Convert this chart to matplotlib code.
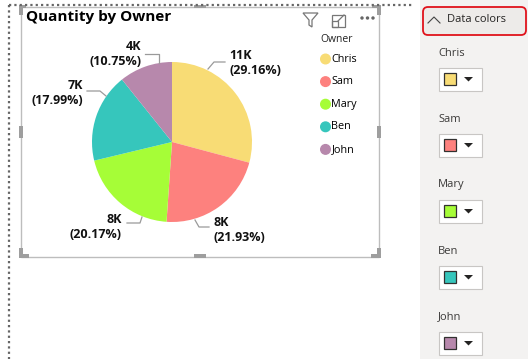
import matplotlib.pyplot as plt
from matplotlib.patches import Rectangle, FancyBboxPatch, Circle, Polygon

plt.rcParams['font.family'] = ['Open Sans', 'DejaVu Sans']

# data
owners = ['Chris', 'Sam', 'Mary', 'Ben', 'John']
shares = [29.16, 21.93, 20.17, 17.99, 10.75]
qty_labels = ['11K', '8K', '8K', '7K', '4K']
colors = ['#F8DC75', '#FD817E', '#A6FD37', '#36C6BC', '#B788AC']

fig = plt.figure(figsize=(5.28, 3.59), dpi=100)
ax = fig.add_axes([0, 0, 1, 1])

# pie in pixel coords (y axis flipped, so counterclock=True looks clockwise)
ax.pie(shares, colors=colors, startangle=270, counterclock=True,
       center=(172, 142), radius=80, wedgeprops=dict(linewidth=0))

ax.set_xlim(0, 528)
ax.set_ylim(359, 0)
ax.set_aspect('equal')
ax.axis('off')

# data labels: (x, y, ha) and leader line points
label_pos = [(229, 63, 'left'), (213, 230, 'left'), (122, 227, 'right'),
             (83, 93, 'right'), (141, 54, 'right')]
leaders = [[(208, 69), (214, 62), (225, 62)],
           [(195, 220), (199, 227), (209, 227)],
           [(142, 217), (140, 223), (127, 223)],
           [(106, 96), (100, 91), (87, 91)],
           [(159, 63), (159, 54), (145, 54)]]
for q, s, (x, y, ha), pts in zip(qty_labels, shares, label_pos, leaders):
    ax.text(x, y, f'{q}\n({s:.2f}%)', ha=ha, va='center', fontsize=9,
            fontweight='bold', color='#111111', linespacing=1.25)
    xs, ys = zip(*pts)
    ax.plot(xs, ys, color='#9A9A9A', lw=0.9)

# title
ax.text(26, 17, 'Quantity by Owner', fontsize=11, fontweight='bold',
        ha='left', va='center', color='black')

# legend
ax.text(320, 40, 'Owner', fontsize=7.5, ha='left', va='center', color='#222222')
for i, (name, c) in enumerate(zip(owners, colors)):
    y = 59 + i * 22.6
    ax.add_patch(Circle((325.5, y), 4.8, color=c))
    ax.text(331.5, y, name, fontsize=7.8, ha='left', va='center', color='#000000')

# visual frame
ax.add_patch(Rectangle((20.5, 6.5), 358.5, 250, fill=False, ec='#BDBDBD', lw=1))
hc = '#9E9E9E'
for (x, y, w, h) in [(19, 5, 4, 10), (19, 5, 7, 3), (377, 5, 4, 10), (372, 5, 9, 3),
                     (19, 248, 4, 10), (19, 254, 10, 4), (377, 248, 4, 10), (371, 254, 10, 4),
                     (194, 5, 12, 3), (194, 254, 12, 4), (377, 126, 4, 12), (19, 126, 4, 12)]:
    ax.add_patch(Rectangle((x, y), w, h, color=hc, lw=0))

# header icons
ax.add_patch(Polygon([(303, 13), (318, 13), (312, 20), (312, 27), (309, 25), (309, 20)],
                     closed=True, fill=False, ec='#777777', lw=0.9))
ax.add_patch(Rectangle((332, 15), 13, 12, fill=False, ec='#777777', lw=0.9))
ax.add_patch(Rectangle((332, 21), 6, 6, fill=False, ec='#777777', lw=0.9))
ax.plot([338, 344], [21, 15], color='#777777', lw=0.9)
for x in (362, 367.5, 373):
    ax.add_patch(Circle((x, 18), 1, color='#666666'))

# dotted page borders
ax.plot([9, 9], [5, 359], color='#666666', lw=1.6, ls=(0, (1, 1.4)))
ax.plot([9, 412], [5, 5], color='#666666', lw=1.6, ls=(0, (1, 1.4)))

# format pane
ax.add_patch(Rectangle((420, 0), 108, 359, color='#F3F2F1', lw=0))
ax.add_patch(FancyBboxPatch((423, 7), 103, 28, boxstyle='round,pad=0,rounding_size=5',
                            fc='#EDEBE9', ec='#E0131C', lw=1.3))
ax.plot([428, 434, 440], [23, 17, 23], color='#444444', lw=0.8)
ax.text(447, 19.5, 'Data colors', fontsize=8, ha='left', va='center', color='#252423')
for i, (name, c) in enumerate(zip(owners, colors)):
    y0 = 66 * i
    ax.text(438, 53 + y0, name, fontsize=8, ha='left', va='center', color='#3B3A39')
    ax.add_patch(Rectangle((438.5, 67.5 + y0), 43, 23, fc='white', ec='#C8C6C4', lw=0.8))
    ax.add_patch(Rectangle((443.5, 72.5 + y0), 12, 12, fc=c, ec='#323130', lw=0.9))
    ax.add_patch(Polygon([(464, 77 + y0), (473, 77 + y0), (468.5, 81.5 + y0)],
                         closed=True, color='#252423', lw=0))

fig.savefig('out.png', dpi=100)
